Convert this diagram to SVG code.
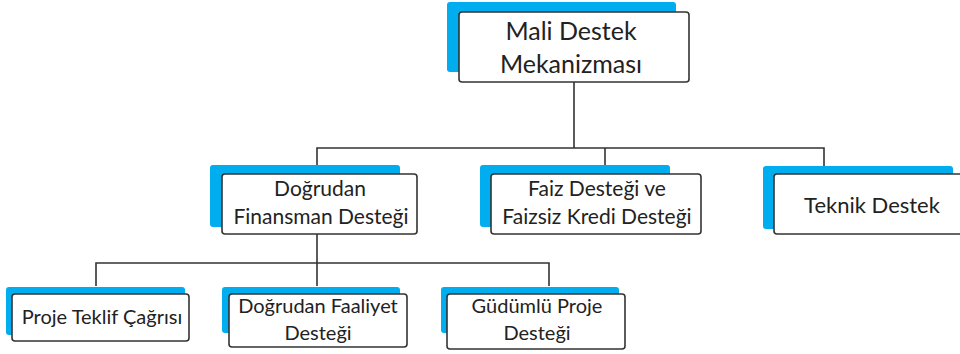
<svg xmlns="http://www.w3.org/2000/svg" width="960" height="354" viewBox="0 0 960 354">
<style>
.sh{fill:#00AEEF}
.bx{fill:#fff;stroke:#333;stroke-width:1.6}
.t{font-family:Lato,"Open Sans","Liberation Sans",sans-serif;font-size:20px;fill:#222;text-anchor:middle}
.m{font-size:21px}
.l{font-size:25px}
.k{font-size:22px}
.c{fill:none;stroke:#333;stroke-width:1.6}
</style>
<rect width="960" height="354" fill="#fff"/>
<g id="connectors">
<path class="c" d="M574 82V148M317 166V148H824V166M605 148V166"/>
<path class="c" d="M317 234V286M96 286V263H549V286"/>
</g>
<g id="n-mali">
<rect class="sh" x="447" y="2" width="229" height="70" rx="3"/>
<rect class="bx" x="459" y="12" width="230" height="70" rx="3"/>
<text class="t l" x="571" y="40">Mali Destek</text>
<text class="t l" x="571" y="73">Mekanizması</text>
</g>
<g id="n-dogrudan">
<rect class="sh" x="210" y="165" width="190" height="62" rx="3"/>
<rect class="bx" x="222" y="174" width="195" height="60" rx="3"/>
<text class="t m" x="320" y="196">Doğrudan</text>
<text class="t m" x="321" y="224">Finansman Desteği</text>
</g>
<g id="n-faiz">
<rect class="sh" x="480" y="165" width="190" height="62" rx="3"/>
<rect class="bx" x="491" y="174" width="210" height="60" rx="3"/>
<text class="t m" x="597" y="196">Faiz Desteği ve</text>
<text class="t m" x="597" y="224">Faizsiz Kredi Desteği</text>
</g>
<g id="n-teknik">
<rect class="sh" x="763" y="166" width="190" height="63" rx="3"/>
<rect class="bx" x="774" y="174" width="198" height="60" rx="3"/>
<text class="t k" x="872" y="213">Teknik Destek</text>
</g>
<g id="n-proje">
<rect class="sh" x="6" y="287" width="179" height="48" rx="3"/>
<rect class="bx" x="12" y="294" width="177" height="47" rx="3"/>
<text class="t" x="102" y="324">Proje Teklif Çağrısı</text>
</g>
<g id="n-faaliyet">
<rect class="sh" x="222" y="287" width="178" height="46" rx="3"/>
<rect class="bx" x="229" y="294" width="178" height="53" rx="3"/>
<text class="t" x="318" y="313">Doğrudan Faaliyet</text>
<text class="t" x="318" y="340">Desteği</text>
</g>
<g id="n-gudumlu">
<rect class="sh" x="441" y="287" width="178" height="46" rx="3"/>
<rect class="bx" x="447" y="294" width="178" height="55" rx="3"/>
<text class="t" x="537" y="313">Güdümlü Proje</text>
<text class="t" x="537" y="340">Desteği</text>
</g>
</svg>
